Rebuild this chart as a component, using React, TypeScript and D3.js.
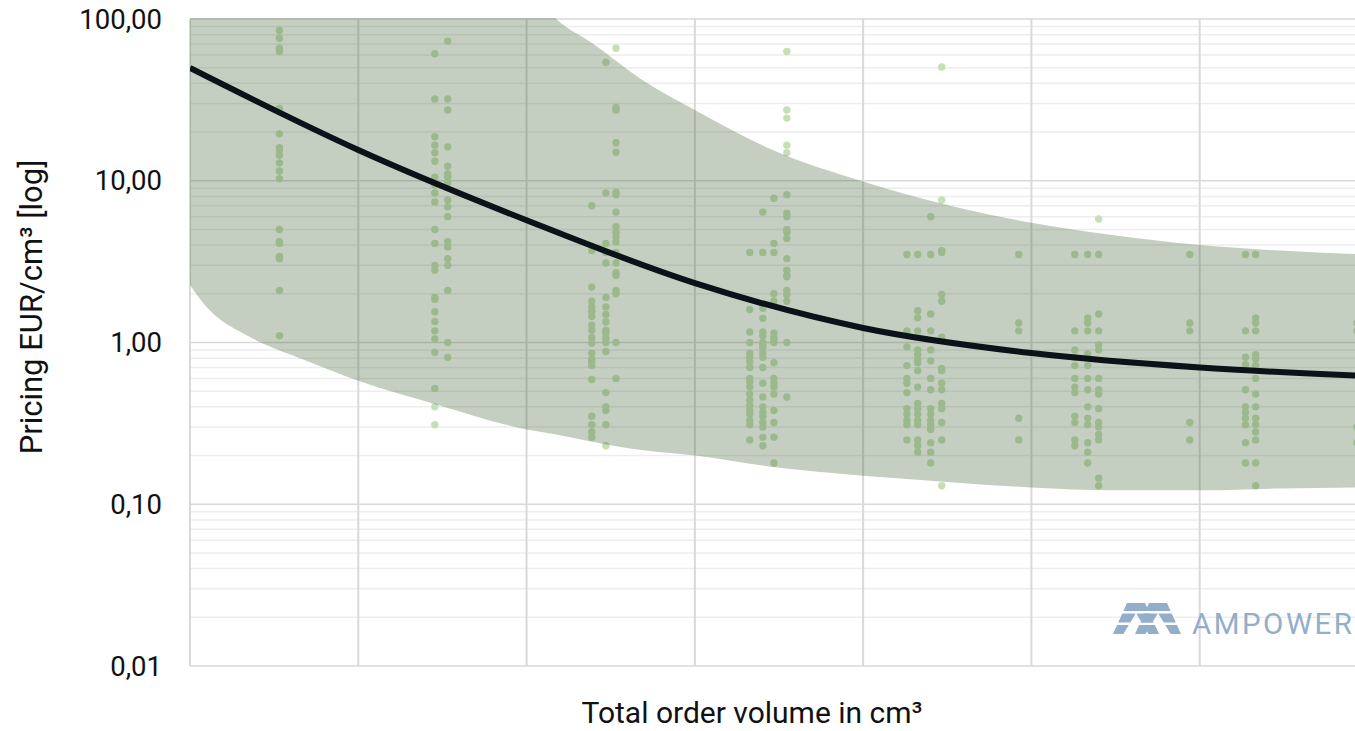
import React from 'react';
import * as d3 from 'd3';

// y axis
const yTickValues = [100, 10, 1, 0.1, 0.01];
const yTickLabels = ['100,00', '10,00', '1,00', '0,10', '0,01'];
// x axis (no labels, only decade gridlines)
const xGridValues = [1, 10, 100, 1e3, 1e4, 1e5, 1e6, 1e7];

// order groups: volume in cm³ and the prices seen at that volume
const pointVolumes = [
  3.4, 28.5, 34, 244, 296, 340, 2120, 2535, 2950, 3520,
  18200, 21100, 25200, 29300, 84100, 181000, 216000, 251000,
  873000, 1870000, 2150000, 8600000
];
const pointPrices = [
  [85, 76, 66, 63, 28, 19.5, 16, 15.5, 14.4, 12.9, 11.5, 10.3, 5, 4.2, 4.1, 3.4, 3.3, 2.1, 1.1],
  [61, 32, 18.7, 16.6, 14.9, 13.2, 10.5, 9.4, 8.4, 7.4, 5, 4.1, 3, 2.8, 1.9, 1.85, 1.55, 1.35, 1.18, 1.05, 0.87, 0.52, 0.4, 0.31],
  [73, 32, 27.4, 16.2, 12.3, 11, 10.5, 9.7, 7.6, 6.9, 6, 4.2, 3.9, 3.3, 3, 2.1, 1, 0.81],
  [7, 3.7, 2.2, 1.8, 1.66, 1.56, 1.45, 1.28, 1.19, 1.07, 0.99, 0.86, 0.79, 0.76, 0.72, 0.59, 0.35, 0.31, 0.28, 0.26],
  [54, 8.4, 4.1, 3.6, 3.1, 1.9, 1.66, 1.49, 1.34, 1.19, 1.14, 1.06, 1, 0.88, 0.49, 0.4, 0.38, 0.31, 0.23],
  [66, 28.5, 27.4, 17.2, 15, 8.5, 8.2, 6.4, 5.2, 4.8, 4.5, 4.2, 3.6, 3.1, 2.7, 2.6, 2.1, 2, 1, 0.6],
  [3.6, 1.6, 1.16, 1, 0.86, 0.81, 0.76, 0.7, 0.6, 0.57, 0.53, 0.48, 0.44, 0.41, 0.38, 0.36, 0.33, 0.31, 0.25],
  [6.4, 3.6, 1.63, 1.41, 1.16, 1.1, 1, 0.97, 0.93, 0.86, 0.81, 0.7, 0.56, 0.46, 0.4, 0.37, 0.35, 0.32, 0.3, 0.26, 0.23],
  [7.8, 4.1, 3.6, 2, 1.8, 1.14, 1.07, 1.03, 1, 0.75, 0.6, 0.56, 0.53, 0.48, 0.38, 0.32, 0.26, 0.18],
  [63, 27.4, 24.4, 16.6, 14.9, 8.2, 6.3, 6, 5, 4.8, 4.4, 3.3, 2.8, 2.6, 2.55, 2.1, 1.97, 1.8, 1, 0.46],
  [3.5, 1.18, 0.94, 0.72, 0.6, 0.56, 0.49, 0.39, 0.36, 0.33, 0.31, 0.25],
  [3.5, 1.57, 1.42, 1.18, 0.9, 0.84, 0.78, 0.75, 0.67, 0.53, 0.42, 0.39, 0.36, 0.33, 0.31, 0.25, 0.23, 0.21],
  [6, 3.5, 1.5, 1.18, 0.9, 0.77, 0.6, 0.51, 0.39, 0.36, 0.33, 0.31, 0.29, 0.24, 0.21, 0.18],
  [50.5, 7.6, 3.7, 3.6, 1.98, 1.8, 1.08, 0.69, 0.67, 0.56, 0.51, 0.42, 0.39, 0.32, 0.25, 0.13],
  [3.5, 1.32, 1.18, 0.34, 0.25],
  [3.5, 1.18, 0.9, 0.81, 0.72, 0.6, 0.53, 0.49, 0.35, 0.32, 0.25, 0.23],
  [3.5, 1.42, 1.32, 1.18, 0.85, 0.72, 0.6, 0.51, 0.4, 0.34, 0.31, 0.24, 0.21, 0.18],
  [5.8, 3.5, 1.5, 1.18, 0.97, 0.9, 0.6, 0.51, 0.48, 0.39, 0.32, 0.3, 0.27, 0.25, 0.145, 0.13],
  [3.5, 1.32, 1.18, 0.32, 0.25],
  [3.5, 1.18, 0.81, 0.73, 0.51, 0.4, 0.37, 0.34, 0.31, 0.24, 0.18],
  [3.5, 1.42, 1.32, 1.18, 0.84, 0.79, 0.72, 0.6, 0.48, 0.4, 0.34, 0.31, 0.28, 0.25, 0.18, 0.13],
  [1.32, 1.18, 0.3, 0.24]
];

// fitted price curve
const trendVolumes = [1, 10, 100, 1e3, 1e4, 1e5, 1e6, 1e7];
const trendPrices = [49.8, 15.5, 5.7, 2.33, 1.23, 0.86, 0.7, 0.62];

// price range band
const bandVolumes = [1, 1.2, 1.4, 2, 3, 4.5, 10, 30, 100, 150, 250, 470, 1000, 2900, 1e4, 3.3e4, 1e5, 3.1e5, 1e6, 3e6, 1e7];
const bandUpper = [3000, 2800, 2600, 2300, 2000, 1700, 1000, 360, 160, 100, 70, 43, 27.4, 15.5, 9.9, 7.0, 5.5, 4.6, 4.0, 3.7, 3.5];
const bandLower = [2.27, 1.75, 1.48, 1.16, 0.94, 0.8, 0.58, 0.41, 0.29, 0.27, 0.243, 0.217, 0.2, 0.17, 0.15, 0.137, 0.127, 0.122, 0.122, 0.125, 0.127];

const W = 1355;
const H = 731;
const left = 190;
const right = 1368;
const top = 19;
const bottom = 666;

const font = 'Roboto, "Noto Sans", sans-serif';

const App = () => {
  const x = d3.scaleLog().domain([1, 1e7]).range([left, right]);
  const y = d3.scaleLog().domain([0.01, 100]).range([bottom, top]);

  const minor: number[] = [];
  [0.01, 0.1, 1, 10].forEach((d) => {
    for (let k = 2; k < 10; k++) minor.push(d * k);
  });

  const band = d3.area<number>()
    .x((_, i) => x(bandVolumes[i]))
    .y0((_, i) => y(bandLower[i]))
    .y1((_, i) => y(bandUpper[i]))
    .curve(d3.curveMonotoneX);

  const trend = d3.line<number>()
    .x((_, i) => x(trendVolumes[i]))
    .y((d) => y(d))
    .curve(d3.curveMonotoneX);

  // Logo: two "Λ" shapes cut into 3 stripes
  const logoColor = '#92aecb';
  const logoPieces: string[] = [];
  const rows = [[603, 611], [613.5, 622.5], [625, 634]];
  const lambdas = [1136, 1158];
  lambdas.forEach((cx) => {
    const halfTop = 9;
    const halfBot = 23;
    const y0 = 603;
    const y1 = 634;
    const hw = (yy: number) => halfTop + (halfBot - halfTop) * (yy - y0) / (y1 - y0);
    const gw = (yy: number) => Math.max(0, (yy - 613) * 0.6);
    rows.forEach(([ra, rb]) => {
      const a = hw(ra), b = hw(rb), ga = gw(ra), gb = gw(rb);
      if (gb <= 0) {
        logoPieces.push(`M${cx - a},${ra}L${cx + a},${ra}L${cx + b},${rb}L${cx - b},${rb}Z`);
      } else {
        logoPieces.push(`M${cx - a},${ra}L${cx - ga},${ra}L${cx - gb},${rb}L${cx - b},${rb}Z`);
        logoPieces.push(`M${cx + ga},${ra}L${cx + a},${ra}L${cx + b},${rb}L${cx + gb},${rb}Z`);
      }
    });
  });

  return (
    <svg width={W} height={H} style={{ position: 'fixed', left: 0, top: 0, background: '#fff' }}>
      <defs>
        <clipPath id="plot">
          <rect x={left} y={top - 1} width={right - left} height={bottom - top + 1} />
        </clipPath>
      </defs>

      {/* gridlines */}
      <g>
        {minor.map((v) => (
          <line key={'m' + v} x1={left} x2={right} y1={y(v)} y2={y(v)} stroke="#ededed" strokeWidth={1.5} />
        ))}
        {yTickValues.map((v) => (
          <line key={'M' + v} x1={left} x2={right} y1={y(v)} y2={y(v)} stroke="#d9d9d9" strokeWidth={1.5} />
        ))}
        {xGridValues.map((v) => (
          <line key={'v' + v} x1={x(v)} x2={x(v)} y1={top} y2={bottom} stroke="#d9d9d9" strokeWidth={2} />
        ))}
      </g>

      <g clipPath="url(#plot)">
        {pointVolumes.map((vol, i) =>
          pointPrices[i].map((p, j) => (
            <circle key={i + '-' + j} cx={x(vol)} cy={y(p)} r={3.7} fill="#c5e0b4" />
          ))
        )}
        <path d={band(bandVolumes) || ''} fill="rgb(60,95,50)" fillOpacity={0.3} />
        <path d={trend(trendPrices) || ''} fill="none" stroke="#0b121a" strokeWidth={6} />
      </g>

      {/* y tick labels */}
      {yTickValues.map((v, i) => (
        <text key={'t' + v} x={162} y={y(v)} dy="0.35em" textAnchor="end"
          fontFamily={font} fontSize={27.5} fill="#111">
          {yTickLabels[i]}
        </text>
      ))}

      <text transform="translate(31,307) rotate(-90)" textAnchor="middle" dy="0.35em"
        fontFamily={font} fontSize={31} fill="#111">
        Pricing EUR/cm³ [log]
      </text>
      <text x={752} y={723} textAnchor="middle"
        fontFamily={font} fontSize={30} fill="#111">
        Total order volume in cm³
      </text>

      {/* logo */}
      <g fill={logoColor}>
        {logoPieces.map((d, i) => <path key={'l' + i} d={d} />)}
        <text x={1192} y={634} fontFamily={font} fontSize={29.5} letterSpacing={2.5}>AMPOWER</text>
      </g>
    </svg>
  );
};

export default App;
